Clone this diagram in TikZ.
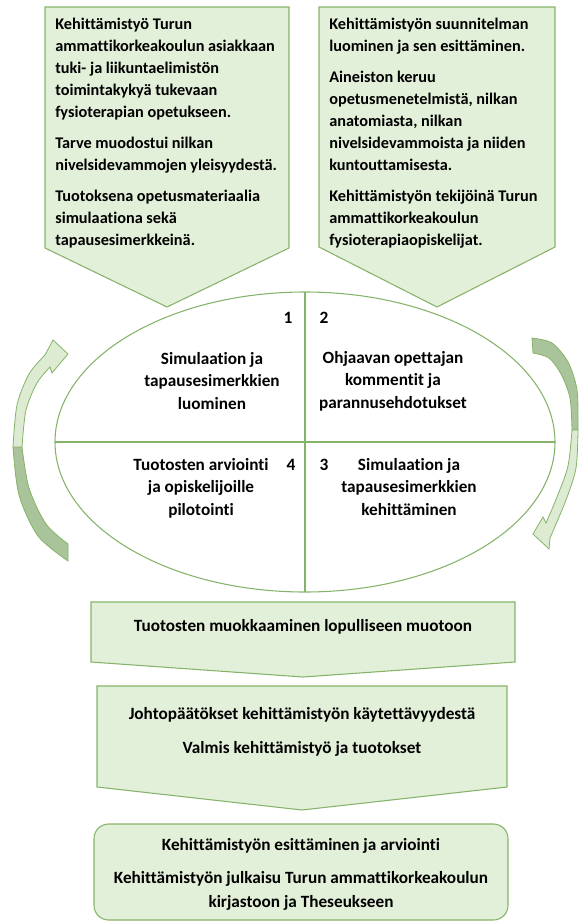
\documentclass[tikz,border=0pt]{standalone}
\usepackage{fontspec}
\setmainfont{Carlito}[Ligatures={NoCommon}]
\usetikzlibrary{shapes.geometric}
\definecolor{gfill}{HTML}{E2EFD9}
\definecolor{gline}{HTML}{86B36A}
\definecolor{gdark}{HTML}{A9C49A}
\definecolor{glight}{HTML}{DCEBD1}
\begin{document}
\begin{tikzpicture}[x=0.75pt,y=-0.75pt,
  box/.style={fill=gfill,draw=gline,line width=0.8pt,line join=miter},
  gline/.style={draw=gline,line width=0.8pt},
  arrowdark/.style={fill=gdark,draw=gline,line width=0.6pt},
  arrowlight/.style={fill=glight,draw=gline,line width=0.6pt},
  toptext/.style={font=\fontsize{12.2pt}{16.4pt}\selectfont\bfseries,align=left,inner sep=0pt,anchor=north west},
  midtext/.style={font=\fontsize{12.9pt}{17pt}\selectfont\bfseries,align=center,inner sep=0pt},
  numtext/.style={font=\fontsize{13pt}{16pt}\selectfont\bfseries,inner sep=0pt},
  bottext/.style={font=\fontsize{12.9pt}{18.2pt}\selectfont\bfseries,align=center,inner sep=0pt}]
\useasboundingbox (0,0) rectangle (579,922);

% top pentagon arrows
\draw[box] (45,7) -- (289,7) -- (289,248) -- (167,307) -- (45,248) -- cycle;
\draw[box] (319,7) -- (555,7) -- (555,247) -- (437,307) -- (319,247) -- cycle;

\node[toptext] (lefttext) at (55,18) {Kehittämistyö Turun\\ammattikorkeakoulun asiakkaan\\tuki- ja liikuntaelimistön\\toimintakykyä tukevaan\\fysioterapian opetukseen.\\[7pt]Tarve muodostui nilkan\\nivelsidevammojen yleisyydestä.\\[7pt]Tuotoksena opetusmateriaalia\\simulaationa sekä\\tapausesimerkkeinä.};
\node[toptext] (righttext) at (329,18) {Kehittämistyön suunnitelman\\luominen ja sen esittäminen.\\[7pt]Aineiston keruu\\opetusmenetelmistä, nilkan\\anatomiasta, nilkan\\nivelsidevammoista ja niiden\\kuntouttamisesta.\\[7pt]Kehittämistyön tekijöinä Turun\\ammattikorkeakoulun\\fysioterapiaopiskelijat.};

% ellipse cycle
\node[ellipse,gline,minimum width=375pt,minimum height=225pt,inner sep=0pt,outer sep=0pt] (ell) at (305,442) {};
\draw[gline] (ell.north) -- (ell.south);
\draw[gline] (ell.west) -- (ell.east);

\node[numtext] (n1) at (288,318) {1};
\node[numtext] (n2) at (324,318) {2};
\node[numtext] (n4) at (291,465) {4};
\node[numtext] (n3) at (324,465) {3};

\node[midtext] (q1) at (212,381) {Simulaation ja\\tapausesimerkkien\\luominen};
\node[midtext] (q2) at (393,381) {Ohjaavan opettajan\\kommentit ja\\parannusehdotukset};
\node[midtext] (q4) at (201,488) {Tuotosten arviointi\\ja opiskelijoille\\pilotointi};
\node[midtext] (q3) at (409,487) {Simulaation ja\\tapausesimerkkien\\kehittäminen};

% left curved arrow
\filldraw[arrowdark] plot[smooth] coordinates {(13,447) (19,495) (38,536) (68,561)} -- (68,544) -- plot[smooth] coordinates {(68,544) (46,524) (29,488) (22,447)} -- cycle;
\filldraw[arrowlight] plot[smooth] coordinates {(13,447) (17,405) (29,374) (45,355)} -- (53,340) -- (68,354) -- (52,373) -- (50,367) -- plot[smooth] coordinates {(50,367) (37,383) (26,410) (22,447)} -- cycle;

% right curved arrow
\filldraw[arrowdark] plot[smooth] coordinates {(532,338) (552,343) (568,362) (577,390) (578,430)} -- (572,430) -- plot[smooth] coordinates {(572,430) (570,398) (561,374) (549,358) (533,353)} -- cycle;
\filldraw[arrowlight] plot[smooth] coordinates {(578,430) (576,468) (566,500) (550,538)} -- (549,549) -- (533,534) -- (543,517) -- (546,523) -- plot[smooth] coordinates {(546,523) (557,497) (568,466) (572,430)} -- cycle;

% bottom boxes
\draw[box] (91,602) -- (515,602) -- (515,662) -- (303,677) -- (91,662) -- cycle;
\node[bottext] (b1) at (303,627) {Tuotosten muokkaaminen lopulliseen muotoon};

\draw[box] (97,686) -- (507,686) -- (507,787) -- (302,810) -- (97,787) -- cycle;
\node[bottext] (b2) at (302,732) {Johtopäätökset kehittämistyön käytettävyydestä\\[7pt]Valmis kehittämistyö ja tuotokset};

\draw[box,rounded corners=11pt] (94,824) rectangle (508,920);
\node[bottext] (b3) at (301,874.5) {Kehittämistyön esittäminen ja arviointi\\[6.5pt]Kehittämistyön julkaisu Turun ammattikorkeakoulun\\kirjastoon ja Theseukseen};
\end{tikzpicture}
\end{document}
